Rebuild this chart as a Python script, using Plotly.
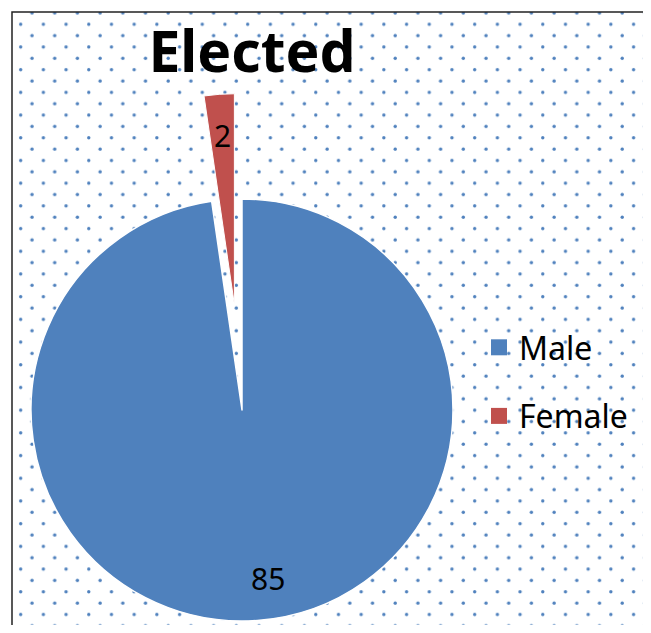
import base64
import math
import plotly.graph_objects as go

# ---- data ----
categories = ["Male", "Female"]
values = [85, 2]
colors = ["#4f81bd", "#c0504d"]
title_text = "Elected"

# ---- geometry / style ----
FW, FH = 635, 617                     # figure size (page has an 8px body margin)
OFF = 8
CX, CY, R = 242.0, 410.0, 211.0       # pie centre / radius in screen px
EXPLODE = 0.5                         # explosion of the Female slice (fraction of R)
TRANSP = "rgba(0,0,0,0)"
FONT = "Noto Sans"


def fx(px):
    return (px - OFF) / FW


def fy(py):
    return 1 - (py - OFF) / FH


total = sum(values)
start_f = values[0] / total * 360
mid_f = math.radians(start_f + values[1] / total * 360 / 2)
d = EXPLODE * R
CXB = CX + d * math.sin(mid_f)
CYB = CY - d * math.cos(mid_f)

fig = go.Figure()

fig.add_trace(go.Pie(
    labels=categories, values=values, sort=False, direction="clockwise", rotation=0,
    marker=dict(colors=[colors[0], TRANSP], line=dict(color=["white", TRANSP], width=[1.5, 0])),
    textinfo="none", hoverinfo="label+value", showlegend=False,
    domain=dict(x=[fx(CX - R), fx(CX + R)], y=[fy(CY + R), fy(CY - R)]),
))
fig.add_trace(go.Pie(
    labels=categories, values=values, sort=False, direction="clockwise", rotation=0,
    marker=dict(colors=[TRANSP, colors[1]], line=dict(color=[TRANSP, "white"], width=[0, 1])),
    textinfo="none", hoverinfo="label+value", showlegend=False,
    domain=dict(x=[fx(CXB - R), fx(CXB + R)], y=[fy(CYB + R), fy(CYB - R)]),
))

for name, col in zip(categories, colors):
    fig.add_trace(go.Scatter(
        x=[None], y=[None], mode="markers", name=name, legendgroup=name,
        marker=dict(symbol="square", size=16, color=col),
    ))

label_px = [(268, 578), (222, 135)]
for (lx, ly), v in zip(label_px, values):
    fig.add_annotation(x=fx(lx), y=fy(ly), xref="paper", yref="paper",
                       xanchor="center", yanchor="middle",
                       text=str(v), showarrow=False,
                       font=dict(family=FONT, size=30, color="black"))

# dotted background pattern
BW, BH = 640, 640
svg = (
    f'<svg xmlns="http://www.w3.org/2000/svg" width="{BW}" height="{BH}" viewBox="0 0 {BW} {BH}">'
    '<defs><pattern id="p" patternUnits="userSpaceOnUse" width="22.7" height="22.7" x="3.0" y="6.6">'
    '<circle cx="5.675" cy="5.675" r="1.7" fill="#4f81bd"/>'
    '<circle cx="17.025" cy="17.025" r="1.7" fill="#4f81bd"/>'
    '</pattern></defs><rect width="100%" height="100%" fill="url(#p)"/></svg>'
)
src = "data:image/svg+xml;base64," + base64.b64encode(svg.encode()).decode()
fig.add_layout_image(dict(source=src, xref="paper", yref="paper",
                          x=fx(12), y=fy(12), sizex=BW / FW, sizey=BH / FH,
                          xanchor="left", yanchor="top", sizing="stretch", layer="below"))

fig.add_shape(type="rect", xref="paper", yref="paper",
              x0=fx(12), x1=fx(648), y0=fy(660), y1=fy(12),
              line=dict(color="#222222", width=1.5), fillcolor=TRANSP, layer="above")

fig.update_layout(
    width=FW, height=FH,
    margin=dict(l=0, r=0, t=0, b=0),
    paper_bgcolor="white", plot_bgcolor="rgba(0,0,0,0)",
    title=dict(text=f"<b>{title_text}</b>", x=fx(252), y=fy(52),
               xanchor="center", yanchor="middle",
               font=dict(family=FONT, size=57, color="black")),
    xaxis=dict(visible=False, range=[0, 1]),
    yaxis=dict(visible=False, range=[0, 1]),
    legend=dict(x=fx(479), y=fy(320), xanchor="left", yanchor="top",
                font=dict(family=FONT, size=32, color="black"),
                bgcolor=TRANSP, traceorder="grouped", tracegroupgap=24,
                itemsizing="trace"),
    showlegend=True,
)

fig.write_html("out.html")
